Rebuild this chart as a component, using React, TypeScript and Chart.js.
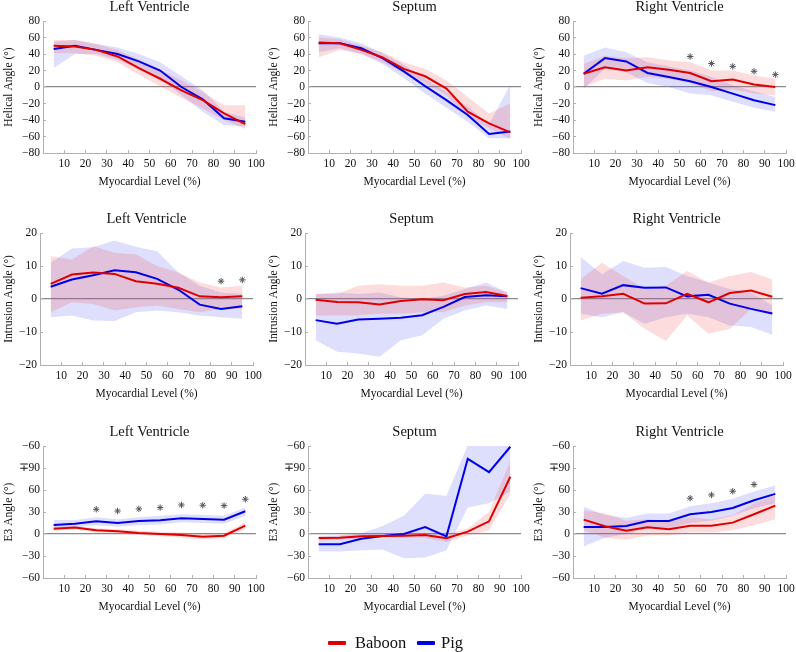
import React, { useEffect, useRef } from "react";
import { Chart, registerables } from "chart.js";
Chart.register(...registerables);

// ---------- data ----------
const levels = [5, 15, 25, 35, 45, 55, 65, 75, 85, 95];
const seriesNames = ["Baboon", "Pig"];
const rowTitles = ["Helical Angle (°)", "Intrusion Angle (°)", "E3 Angle (°)"];
const colTitles = ["Left Ventricle", "Septum", "Right Ventricle"];
const xAxisTitle = "Myocardial Level (%)";
const xTickValues = [10, 20, 30, 40, 50, 60, 70, 80, 90, 100];
const helicalTicks = [-80, -60, -40, -20, 0, 20, 40, 60, 80];
const intrusionTicks = [-20, -10, 0, 10, 20];
const e3Ticks = [-60, -30, 0, 30, 60, 90, 120];
const e3TickLabels = ["\u221260", "\u221230", "0", "30", "60", "\u221390", "\u221260"];

// Helical – Left Ventricle
const lvHelBab = [50, 49, 45, 37, 23, 10, -4, -16, -32, -45];
const lvHelBabHi = [57, 57, 52, 45, 33, 21, 8, -6, -22, -22];
const lvHelBabLo = [41, 41, 38, 30, 15, 1, -13, -26, -40, -51];
const lvHelPig = [46, 50, 45, 40, 31, 20, 0, -15, -38, -42];
const lvHelPigHi = [55, 57, 52, 48, 40, 30, 13, -4, -30, -37];
const lvHelPigLo = [23, 40, 40, 33, 22, 10, -10, -30, -46, -48];

// Helical – Septum
const sepHelBab = [54, 53, 45, 36, 22, 13, -2, -30, -44, -55];
const sepHelBabHi = [60, 58, 50, 42, 30, 22, 8, -12, -32, -20];
const sepHelBabLo = [36, 45, 40, 30, 17, 5, -10, -36, -50, -63];
const sepHelPig = [53, 53, 47, 35, 19, 1, -16, -34, -57, -54];
const sepHelPigHi = [64, 60, 53, 41, 27, 10, -6, -24, -45, 3];
const sepHelPigLo = [42, 47, 40, 28, 11, -8, -25, -42, -62, -62];

// Helical – Right Ventricle
const rvHelBab = [16, 24, 20, 24, 21, 17, 7, 9, 3, 0];
const rvHelBabHi = [28, 38, 35, 36, 32, 30, 20, 20, 14, 10];
const rvHelBabLo = [0, 10, 8, 12, 10, 5, -5, -3, -8, -10];
const rvHelPig = [16, 35, 31, 17, 12, 7, 0, -8, -16, -22];
const rvHelPigHi = [38, 48, 42, 30, 25, 20, 12, 2, -5, -12];
const rvHelPigLo = [-2, 22, 18, 5, 0, -8, -10, -18, -25, -30];
const rvHelStarX = [55, 65, 75, 85, 95];
const rvHelStarY = [37, 28.5, 25, 19, 15];

// Intrusion – Left Ventricle
const lvIntBab = [4.6, 7.4, 8.0, 7.6, 5.4, 4.6, 3.4, 0.8, 0.5, 0.8];
const lvIntBabHi = [13, 12, 16, 14, 13.5, 10, 8, 5, 3.5, 4];
const lvIntBabLo = [-4, -1, -1.5, -3.5, -2.5, -2, -3, -4, -3, -3];
const lvIntPig = [3.7, 5.9, 7.2, 8.7, 8.1, 6.1, 2.8, -1.7, -3.0, -2.2];
const lvIntPigHi = [11, 15.3, 15.7, 17.7, 15.8, 14.5, 8, 4, 2, 1.5];
const lvIntPigLo = [-5.5, -5, -6.5, -6.7, -4, -3.5, -4, -5, -5.5, -6];
const lvIntStarX = [85, 95];
const lvIntStarY = [5.4, 5.8];

// Intrusion – Septum
const sepIntBab = [-0.2, -0.9, -1.0, -1.7, -0.6, -0.1, -0.4, 1.5, 2.1, 0.9];
const sepIntBabHi = [1.5, 1.5, 4, 4.5, 4, 4, 5, 3.5, 4, 2];
const sepIntBabLo = [-5, -5, -5, -4.5, -4.5, -4, -4, -2, -1, -1];
const sepIntPig = [-6.4, -7.5, -6.2, -6.0, -5.7, -4.9, -2.4, 0.6, 1.1, 0.8];
const sepIntPigHi = [1.5, 2, 1.5, 2, 0.5, 0, 1, 3, 5, 2];
const sepIntPigLo = [-12.5, -16, -16.5, -17.5, -12.5, -11, -6, -3.5, -2, -3];

// Intrusion – Right Ventricle
const rvIntBab = [0.4, 0.8, 1.6, -1.4, -1.3, 1.6, -1.0, 1.8, 2.6, 0.7];
const rvIntBabHi = [6, 11, 7, 3, 4, 8.5, 5, 7, 8.2, 6];
const rvIntBabLo = [-6.5, -4.5, -4, -9, -12.7, -5, -10.5, -9, -3, -5];
const rvIntPig = [3.3, 1.6, 4.2, 3.4, 3.5, 0.8, 1.3, -1.4, -3.0, -4.4];
const rvIntPigHi = [12.7, 7.5, 11.5, 9.5, 9.7, 7, 5, 3, 2, -2];
const rvIntPigLo = [-4.5, -5.5, -4, -7.5, -5.5, -4.5, -5.5, -8, -8.5, -10.8];

// E3 – Left Ventricle
const lvE3Bab = [7.3, 8.7, 5.0, 3.6, 1.4, 0, -1.4, -3.6, -2.3, 11.4];
const lvE3BabHi = [10, 11, 8, 6.5, 4.5, 3, 2, 0, 1, 16];
const lvE3BabLo = [4.5, 6, 2, 1, -1.5, -3, -5, -7, -5.5, 7];
const lvE3Pig = [12.3, 14.1, 17.3, 15.0, 17.8, 18.7, 21.4, 20.5, 19.6, 31.0];
const lvE3PigHi = [19, 19, 23, 20, 23, 25, 27, 26, 25, 36];
const lvE3PigLo = [7, 9, 12, 10, 12, 13, 16, 15, 14, 25];
const lvE3StarX = [25, 35, 45, 55, 65, 75, 85, 95];
const lvE3StarY = [33.7, 31.4, 34.2, 36, 39.6, 39.2, 38.7, 47.4];

// E3 – Septum
const sepE3Bab = [-5.5, -5, -3.2, -2.7, -2.3, -1.4, -5.9, 3.2, 17.3, 78];
const sepE3BabHi = [-2, -2, 0, 0, 1, 2, -1, 8, 30, 100];
const sepE3BabLo = [-9, -8, -6, -5, -5, -5, -11, -2, 5, 55];
const sepE3Pig = [-14.1, -14.1, -6.4, -2.7, 0, 9.6, -3.2, 102.5, 84.3, 119];
const sepE3PigHi = [-4, -2, 1, 11, 25, 55, 52, 121, 121, 121];
const sepE3PigLo = [-24, -24, -22, -21, -33, -32, -22, 36, 42, 58];

// E3 – Right Ventricle
const rvE3Bab = [19.6, 10.5, 4.6, 9.1, 6.4, 11.4, 11.4, 15.5, 26.9, 38.7];
const rvE3BabHi = [32, 28, 18, 20, 17, 23, 20, 26, 42, 52];
const rvE3BabLo = [5, -5, -8, -2, -2, 2, 2, 5, 12, 20];
const rvE3Pig = [9.6, 9.6, 10.9, 17.8, 17.8, 26.9, 30.1, 35.5, 46.0, 54.7];
const rvE3PigHi = [37, 26, 22, 28, 28, 38, 42, 48, 58, 66];
const rvE3PigLo = [-17, -5, 0, 8, 8, 15, 18, 25, 35, 42];
const rvE3StarX = [55, 65, 75, 85];
const rvE3StarY = [48.8, 53.3, 58.3, 67.5];

// ---------- styles ----------
const FONT = "'Liberation Serif', 'Times New Roman', serif";
const RED = "rgb(222,0,0)";
const BLUE = "rgb(0,0,230)";
const RED_BAND = "rgba(240,80,80,0.20)";
const BLUE_BAND = "rgba(90,90,245,0.20)";
const AXIS = "#b0b0b0";
const TEXT = "#111";

type PanelSpec = {
  row: number;
  col: number;
  ticks: number[];
  tickLabels?: string[];
  bab: number[];
  babHi: number[];
  babLo: number[];
  pig: number[];
  pigHi: number[];
  pigLo: number[];
  starX?: number[];
  starY?: number[];
};

const panels: PanelSpec[] = [
  { row: 0, col: 0, ticks: helicalTicks, bab: lvHelBab, babHi: lvHelBabHi, babLo: lvHelBabLo, pig: lvHelPig, pigHi: lvHelPigHi, pigLo: lvHelPigLo },
  { row: 0, col: 1, ticks: helicalTicks, bab: sepHelBab, babHi: sepHelBabHi, babLo: sepHelBabLo, pig: sepHelPig, pigHi: sepHelPigHi, pigLo: sepHelPigLo },
  { row: 0, col: 2, ticks: helicalTicks, bab: rvHelBab, babHi: rvHelBabHi, babLo: rvHelBabLo, pig: rvHelPig, pigHi: rvHelPigHi, pigLo: rvHelPigLo, starX: rvHelStarX, starY: rvHelStarY },
  { row: 1, col: 0, ticks: intrusionTicks, bab: lvIntBab, babHi: lvIntBabHi, babLo: lvIntBabLo, pig: lvIntPig, pigHi: lvIntPigHi, pigLo: lvIntPigLo, starX: lvIntStarX, starY: lvIntStarY },
  { row: 1, col: 1, ticks: intrusionTicks, bab: sepIntBab, babHi: sepIntBabHi, babLo: sepIntBabLo, pig: sepIntPig, pigHi: sepIntPigHi, pigLo: sepIntPigLo },
  { row: 1, col: 2, ticks: intrusionTicks, bab: rvIntBab, babHi: rvIntBabHi, babLo: rvIntBabLo, pig: rvIntPig, pigHi: rvIntPigHi, pigLo: rvIntPigLo },
  { row: 2, col: 0, ticks: e3Ticks, tickLabels: e3TickLabels, bab: lvE3Bab, babHi: lvE3BabHi, babLo: lvE3BabLo, pig: lvE3Pig, pigHi: lvE3PigHi, pigLo: lvE3PigLo, starX: lvE3StarX, starY: lvE3StarY },
  { row: 2, col: 1, ticks: e3Ticks, tickLabels: e3TickLabels, bab: sepE3Bab, babHi: sepE3BabHi, babLo: sepE3BabLo, pig: sepE3Pig, pigHi: sepE3PigHi, pigLo: sepE3PigLo },
  { row: 2, col: 2, ticks: e3Ticks, tickLabels: e3TickLabels, bab: rvE3Bab, babHi: rvE3BabHi, babLo: rvE3BabLo, pig: rvE3Pig, pigHi: rvE3PigHi, pigLo: rvE3PigLo, starX: rvE3StarX, starY: rvE3StarY },
];

// ---------- layout ----------
const ROW_TOP = [0, 212, 425];
const Y_AXIS_W = [43, 40, 43];
const PLOT_W = 213;
const CELL_W = 268;
const CELL_H = 193;
const TITLE_SPACE = 21;
const X_AXIS_H = 40;

const pts = (ys: number[]) => levels.map((x, i) => ({ x, y: ys[i] }));
const fmt = (v: number) => (v < 0 ? "\u2212" + Math.abs(v) : String(v));

function Panel({ p }: { p: PanelSpec }) {
  const ref = useRef<HTMLCanvasElement>(null);
  useEffect(() => {
    const yW = Y_AXIS_W[p.row];
    const rightPad = CELL_W - yW - PLOT_W;
    const step = p.ticks[1] - p.ticks[0];
    const datasets: any[] = [
      { label: seriesNames[0], data: pts(p.bab), borderColor: RED, borderWidth: 2, pointRadius: 0, fill: false, order: 0 },
      { label: seriesNames[1], data: pts(p.pig), borderColor: BLUE, borderWidth: 2, pointRadius: 0, fill: false, order: 0 },
      { label: "babHi", data: pts(p.babHi), borderWidth: 0, borderColor: "transparent", pointRadius: 0, fill: false, order: 2 },
      { label: "babLo", data: pts(p.babLo), borderWidth: 0, borderColor: "transparent", pointRadius: 0, fill: "-1", backgroundColor: RED_BAND, order: 2 },
      { label: "pigHi", data: pts(p.pigHi), borderWidth: 0, borderColor: "transparent", pointRadius: 0, fill: false, order: 2 },
      { label: "pigLo", data: pts(p.pigLo), borderWidth: 0, borderColor: "transparent", pointRadius: 0, fill: "-1", backgroundColor: BLUE_BAND, order: 2 },
    ];
    if (p.starX && p.starY) {
      datasets.push({
        label: "significance",
        data: p.starX.map((x, i) => ({ x, y: p.starY![i] })),
        showLine: false,
        pointStyle: "star",
        pointRadius: 3.2,
        borderColor: "#555",
        borderWidth: 1,
        order: 0,
      });
    }
    const chart = new Chart(ref.current!, {
      type: "line",
      data: { datasets },
      options: {
        animation: false,
        responsive: false,
        devicePixelRatio: 1,
        layout: { padding: { left: 0, right: rightPad, top: 0, bottom: 0 } },
        plugins: {
          legend: { display: false },
          tooltip: { enabled: false },
          title: {
            display: true,
            text: colTitles[p.col],
            fullSize: false,
            color: TEXT,
            font: { family: FONT, size: 14.5, weight: "normal", lineHeight: 1 },
            padding: { top: 0, bottom: TITLE_SPACE - 14.5 },
          },
        },
        scales: {
          x: {
            type: "linear",
            min: 0,
            max: 100,
            afterBuildTicks: (s: any) => {
              s.ticks = [0, ...xTickValues].map((v) => ({ value: v }));
            },
            ticks: {
              callback: (v: any) => (v === 0 ? "" : String(v)),
              color: TEXT,
              font: { family: FONT, size: 11.5 },
              padding: 7,
              maxRotation: 0,
              autoSkip: false,
            },
            grid: { color: "transparent", tickColor: AXIS, tickLength: -3, drawTicks: true },
            border: { color: AXIS, width: 1 },
            title: {
              display: true,
              text: xAxisTitle,
              color: TEXT,
              font: { family: FONT, size: 11.5 },
              padding: { top: 0, bottom: 4 },
            },
            afterFit: (s: any) => {
              s.height = X_AXIS_H;
              s.paddingLeft = 0;
              s.paddingRight = 0;
            },
          },
          y: {
            type: "linear",
            min: p.ticks[0],
            max: p.ticks[p.ticks.length - 1],
            afterBuildTicks: (s: any) => {
              s.ticks = p.ticks.map((v) => ({ value: v }));
            },
            ticks: {
              stepSize: step,
              callback: (v: any) => {
                const i = p.ticks.indexOf(v);
                if (p.tickLabels && i >= 0) return p.tickLabels[i];
                return fmt(v);
              },
              color: TEXT,
              font: { family: FONT, size: 11.5 },
              padding: 6,
              autoSkip: false,
            },
            grid: {
              color: (ctx: any) => (ctx.tick && ctx.tick.value === 0 ? "#8a8a8a" : "transparent"),
              lineWidth: (ctx: any) => (ctx.tick && ctx.tick.value === 0 ? 1.3 : 1),
              tickColor: AXIS,
              tickLength: -3,
              drawTicks: true,
            },
            border: { color: AXIS, width: 1 },
            title: {
              display: true,
              text: rowTitles[p.row],
              color: TEXT,
              font: { family: FONT, size: 11.5 },
              padding: { top: 2, bottom: 0 },
            },
            afterFit: (s: any) => {
              s.width = yW;
              s.paddingTop = 0;
              s.paddingBottom = 0;
            },
          },
        },
      } as any,
    });
    return () => chart.destroy();
  }, [p]);
  return (
    <div
      style={{
        position: "absolute",
        left: p.col * 265,
        top: ROW_TOP[p.row],
        width: CELL_W,
        height: CELL_H,
      }}
    >
      <canvas ref={ref} width={CELL_W} height={CELL_H} style={{ width: CELL_W, height: CELL_H, display: "block" }} />
    </div>
  );
}

function LegendItem({ color, label, left, textLeft }: { color: string; label: string; left: number; textLeft: number }) {
  return (
    <>
      <div style={{ position: "absolute", left, top: 641, width: 18, height: 3.5, background: color, borderRadius: 1 }} />
      <div
        style={{
          position: "absolute",
          left: textLeft,
          top: 633,
          fontFamily: FONT,
          fontSize: 16.5,
          lineHeight: "20px",
          color: TEXT,
          whiteSpace: "nowrap",
        }}
      >
        {label}
      </div>
    </>
  );
}

export default function App() {
  return (
    <div style={{ position: "absolute", left: 0, top: 0, width: 796, height: 652, background: "#fff", overflow: "hidden" }}>
      {panels.map((p, i) => (
        <Panel key={i} p={p} />
      ))}
      <LegendItem color={RED} label={seriesNames[0]} left={328} textLeft={355} />
      <LegendItem color={BLUE} label={seriesNames[1]} left={417} textLeft={441} />
    </div>
  );
}
